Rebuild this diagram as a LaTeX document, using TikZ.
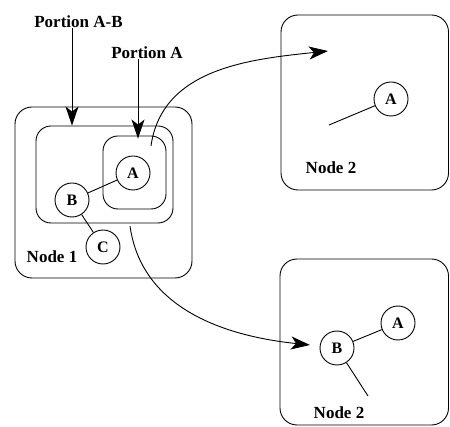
\documentclass[tikz,border=0pt]{standalone}
\usepackage{fontspec}
\setmainfont{Liberation Serif}
\usetikzlibrary{arrows.meta,positioning}
\tikzset{
	site/.style={draw, rounded corners=17pt, inner sep=0pt},
	obj/.style={draw, circle, minimum size=34pt, inner sep=0pt, font=\fontsize{16}{18}\selectfont\bfseries},
	lbl/.style={font=\fontsize{17}{20}\selectfont\bfseries, inner sep=0pt},
	move/.style={-{Stealth[length=19pt, width=13pt, inset=5pt]}},
}
\begin{document}
\begin{tikzpicture}
[x=1pt, y=1pt, line width=0.9pt]
\useasboundingbox (0,0) rectangle (450,-427);
% node 1 with its two nested portions
\node[site, minimum width=177pt, minimum height=171pt] (node1) at (103.5,-192.5) {};
\node[site, rounded corners=15pt, minimum width=137pt, minimum height=97pt] (partab) at (104.5,-174.5) {};
\node[site, rounded corners=15pt, minimum width=63pt, minimum height=73pt] (parta) at (134.5,-172.5) {};
\node[obj] (a1) at (133,-173) {A};
\node[obj] (b1) at (72,-200) {B};
\node[obj] (c1) at (103,-247) {C};
\draw (b1) -- (a1);
\draw (b1) -- (c1);
\node[lbl] (lab1) at (52,-257) {Node 1};
% labels pointing at the portions
\node[lbl] (labab) at (78.5,-22) {Portion A-B};
\node[lbl] (laba) at (147,-53) {Portion A};
\draw[move] ([xshift=-6.5pt]labab.south) -- ([xshift=-6.5pt]labab.south |- partab.north);
\draw[move] ([xshift=-9pt]laba.south) -- ([xshift=-9pt, yshift=-3pt]laba.south |- parta.north);
% node 2, after portion A is moved
\node[site, minimum width=167.5pt, minimum height=175pt] (node2a) at (364.75,-102.5) {};
\node[obj] (a2) at (391,-99) {A};
\coordinate (lose2) at (329,-125);
\draw (lose2) -- (a2);
\node[lbl] (lab2a) at (331,-168) {Node 2};
% node 2, after portion A-B is moved
\node[site, minimum width=168.5pt, minimum height=166pt] (node2b) at (364.25,-342) {};
\node[obj] (a3) at (398,-323) {A};
\node[obj] (b3) at (337,-348) {B};
\coordinate (lose3) at (368,-396);
\draw (b3) -- (a3);
\draw (b3) -- (lose3);
\node[lbl] (lab2b) at (339,-413) {Node 2};
% migrations
\coordinate (froma) at (151,-146);
\coordinate (toa) at (328,-51);
\coordinate (fromab) at (130,-226);
\coordinate (toab) at (310,-345);
\draw[move] (froma) to[out=82, in=186] (toa);
\draw[move] (fromab) to[out=-82, in=174] (toab);
\end{tikzpicture}
\end{document}
